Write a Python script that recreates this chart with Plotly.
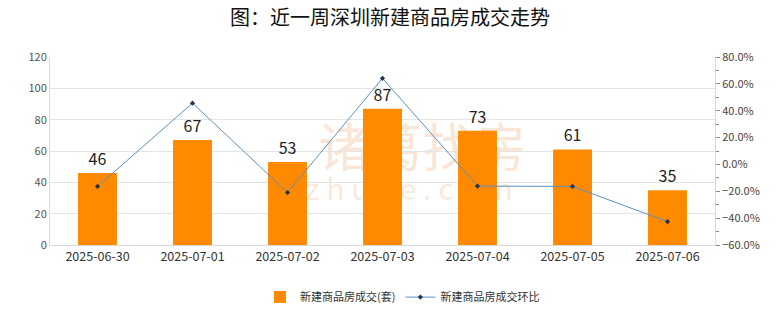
import plotly.graph_objects as go

dates = ["2025-06-30", "2025-07-01", "2025-07-02", "2025-07-03",
         "2025-07-04", "2025-07-05", "2025-07-06"]
deals = [46, 67, 53, 87, 73, 61, 35]
ring_ratio = [-0.164, 0.4565, -0.209, 0.6415, -0.161, -0.164, -0.426]

bar_name = "新建商品房成交(套)"
line_name = "新建商品房成交环比"
title_text = "图：近一周深圳新建商品房成交走势"

font_family = "Noto Sans CJK SC, Roboto, sans-serif"

fig = go.Figure()

fig.add_trace(go.Bar(
    x=dates, y=deals, name=bar_name,
    marker=dict(color="#ff8a00", line=dict(width=0)),
    text=deals, textposition="outside",
    textfont=dict(size=16, color="#222222"),
    cliponaxis=False,
))

fig.add_trace(go.Scatter(
    x=dates, y=ring_ratio, name=line_name, yaxis="y2",
    mode="lines+markers",
    line=dict(color="#5b8fc4", width=1),
    marker=dict(symbol="diamond", size=4, color="#1f3550"),
))

# faint brand watermark sitting behind the bars
fig.add_shape(
    type="rect", xref="paper", yref="paper",
    x0=0.40, x1=0.72, y0=0.36, y1=0.62, layer="below",
    line=dict(width=0), fillcolor="rgba(0,0,0,0)",
    label=dict(text="诸葛找房", font=dict(size=52, color="#fae6d6", family=font_family)),
)
fig.add_shape(
    type="rect", xref="paper", yref="paper",
    x0=0.36, x1=0.72, y0=0.20, y1=0.36, layer="below",
    line=dict(width=0), fillcolor="rgba(0,0,0,0)",
    label=dict(text="z h u g e . c o m", font=dict(size=30, color="#faeade", family=font_family)),
)

fig.update_layout(
    width=780, height=328,
    margin=dict(l=50, r=65, t=57, b=83, autoexpand=False),
    paper_bgcolor="white", plot_bgcolor="white",
    font=dict(family=font_family, color="#555555", size=11),
    title=dict(text=title_text, x=0.5, xanchor="center", y=0.945, yanchor="middle",
               font=dict(size=20, color="#111111", family=font_family)),
    bargap=0.59,
    showlegend=True,
    legend=dict(orientation="h", x=0.53, xanchor="center", y=-0.20, yanchor="top",
                font=dict(size=11, color="#333333"), itemwidth=30),
    xaxis=dict(
        type="category", showgrid=False, showline=True, linecolor="#d9d9d9",
        ticks="", tickfont=dict(size=12.5, color="#333333"),
    ),
    yaxis=dict(
        range=[0, 120], dtick=20, showgrid=True, gridcolor="#e4e4e4",
        showline=True, linecolor="#d9d9d9", zeroline=False,
        tickfont=dict(size=11, color="#555555"),
    ),
    yaxis2=dict(
        overlaying="y", side="right", range=[-0.6, 0.8], dtick=0.2,
        tickformat=".1%", showgrid=False, zeroline=False,
        showline=True, linecolor="#d9d9d9",
        ticks="outside", ticklen=4, tickcolor="#888888",
        minor=dict(dtick=0.1, ticks="outside", ticklen=3, tickcolor="#888888"),
        tickfont=dict(size=11, color="#444444"),
    ),
)

fig.write_html("out.html")
